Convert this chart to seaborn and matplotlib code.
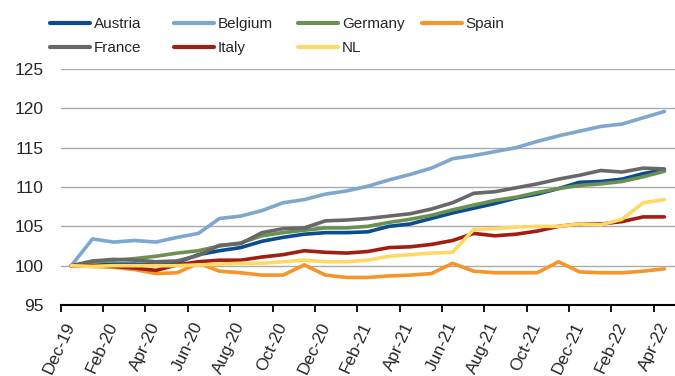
import numpy as np
import pandas as pd
import matplotlib
matplotlib.use("Agg")
import matplotlib.pyplot as plt
from matplotlib.font_manager import FontProperties
from matplotlib.lines import Line2D
import seaborn as sns

months = ["Dec-19", "Jan-20", "Feb-20", "Mar-20", "Apr-20", "May-20", "Jun-20",
          "Jul-20", "Aug-20", "Sep-20", "Oct-20", "Nov-20", "Dec-20", "Jan-21",
          "Feb-21", "Mar-21", "Apr-21", "May-21", "Jun-21", "Jul-21", "Aug-21",
          "Sep-21", "Oct-21", "Nov-21", "Dec-21", "Jan-22", "Feb-22", "Mar-22",
          "Apr-22"]

austria = [100.0, 100.1, 100.2, 100.2, 100.1, 100.4, 101.4, 101.9, 102.3, 103.1,
           103.6, 104.0, 104.2, 104.2, 104.3, 105.0, 105.3, 106.0, 106.7, 107.3,
           107.9, 108.6, 109.1, 109.8, 110.6, 110.7, 111.0, 111.7, 112.2]
belgium = [100.0, 103.4, 103.0, 103.2, 103.0, 103.6, 104.1, 106.0, 106.3, 107.0,
           108.0, 108.4, 109.1, 109.5, 110.1, 110.9, 111.6, 112.4, 113.6, 114.0,
           114.5, 115.0, 115.8, 116.5, 117.1, 117.7, 118.0, 118.8, 119.6]
germany = [100.0, 100.4, 100.7, 100.9, 101.2, 101.6, 101.9, 102.5, 102.9, 103.8,
           104.2, 104.5, 104.8, 104.8, 105.0, 105.5, 105.9, 106.4, 107.1, 107.7,
           108.3, 108.7, 109.3, 109.8, 110.2, 110.4, 110.7, 111.3, 112.0]
spain = [100.0, 99.9, 99.8, 99.5, 99.0, 99.1, 100.3, 99.3, 99.1, 98.8,
         98.8, 100.1, 98.8, 98.5, 98.5, 98.7, 98.8, 99.0, 100.3, 99.3,
         99.1, 99.1, 99.1, 100.5, 99.2, 99.1, 99.1, 99.3, 99.6]
france = [100.0, 100.6, 100.8, 100.7, 100.5, 100.6, 101.3, 102.6, 102.8, 104.2,
          104.7, 104.8, 105.7, 105.8, 106.0, 106.3, 106.6, 107.2, 108.0, 109.2,
          109.4, 109.9, 110.4, 111.0, 111.5, 112.1, 111.9, 112.4, 112.3]
italy = [100.0, 100.0, 99.9, 99.7, 99.4, 100.1, 100.5, 100.7, 100.7, 101.1,
         101.4, 101.9, 101.7, 101.6, 101.8, 102.3, 102.4, 102.7, 103.2, 104.1,
         103.8, 104.0, 104.4, 105.0, 105.3, 105.3, 105.6, 106.2, 106.2]
nl = [100.0, 99.9, 100.0, 100.0, 100.0, 100.0, 100.1, 100.2, 100.3, 100.3,
      100.5, 100.7, 100.5, 100.5, 100.7, 101.2, 101.4, 101.6, 101.7, 104.6,
      104.7, 104.9, 105.0, 105.0, 105.3, 105.2, 105.9, 108.0, 108.4]

countries = ["Austria", "Belgium", "Germany", "Spain", "France", "Italy", "NL"]
series = [austria, belgium, germany, spain, france, italy, nl]
colors = {"Austria": "#0B4C8E", "Belgium": "#7DA7CD", "Germany": "#6B9150",
          "Spain": "#F5962A", "France": "#686868", "Italy": "#A21E12",
          "NL": "#FFD966"}

y_ticks = [95, 100, 105, 110, 115, 120, 125]

df = pd.concat(
    [pd.DataFrame({"month": months, "pos": np.arange(len(months)),
                   "country": c, "value": v})
     for c, v in zip(countries, series)],
    ignore_index=True)

sns.set_style("white")
plt.rcParams["font.family"] = ["Liberation Sans", "DejaVu Sans"]

fig = plt.figure(figsize=(6.75, 3.76), dpi=100)
ax = fig.add_axes([0.0899, 0.1888, 0.9101, 0.6277])

lw = 2.6
sns.lineplot(data=df, x="pos", y="value", hue="country", hue_order=countries,
             palette=colors, linewidth=lw, legend=False, ax=ax,
             solid_capstyle="round", solid_joinstyle="round", zorder=3)

ax.set_xlim(-0.5, len(months) - 0.5)
ax.set_ylim(95, 125)
ax.set_yticks(y_ticks)
ax.set_yticklabels([str(t) for t in y_ticks])
ax.tick_params(axis="y", length=0, pad=12.5, labelsize=12.5)

# labels on every other month, tick marks between the category slots
label_pos = np.arange(0, len(months), 2)
ax.set_xticks(label_pos)
ax.set_xticklabels([months[i] for i in label_pos], rotation=65,
                   ha="right", va="center", rotation_mode="anchor")
ax.set_xticks(np.arange(-0.5, len(months) + 0.5, 2), minor=True)
ax.tick_params(axis="x", which="major", length=0, pad=13, labelsize=12.3)
ax.tick_params(axis="x", which="minor", length=5, width=1.3, color="black",
               direction="out", bottom=True)
ax.set_xlabel("")
ax.set_ylabel("")

for yv in y_ticks[1:]:
    ax.axhline(yv, color="#ABABAB", linewidth=1.0, zorder=1)

for side in ["top", "right", "left"]:
    ax.spines[side].set_visible(False)
ax.spines["bottom"].set_color("black")
ax.spines["bottom"].set_linewidth(1.5)
ax.spines["bottom"].set_zorder(4)

legend_font = FontProperties(family=["Liberation Sans", "DejaVu Sans"], size=11)
columns = [["Austria", "France"], ["Belgium", "Italy"], ["Germany", "NL"], ["Spain"]]
col_x = [50 / 675, 174 / 675, 298 / 675, 422 / 675]
for names, x0 in zip(columns, col_x):
    handles = [Line2D([0], [0], color=colors[n], linewidth=3.0,
                      solid_capstyle="round") for n in names]
    fig.legend(handles, names, loc="upper left", bbox_to_anchor=(x0, 0.955),
               frameon=False, prop=legend_font, handlelength=2.65,
               handletextpad=0.22, labelspacing=0.68, borderpad=0,
               borderaxespad=0)

fig.savefig("out.png", dpi=100)
